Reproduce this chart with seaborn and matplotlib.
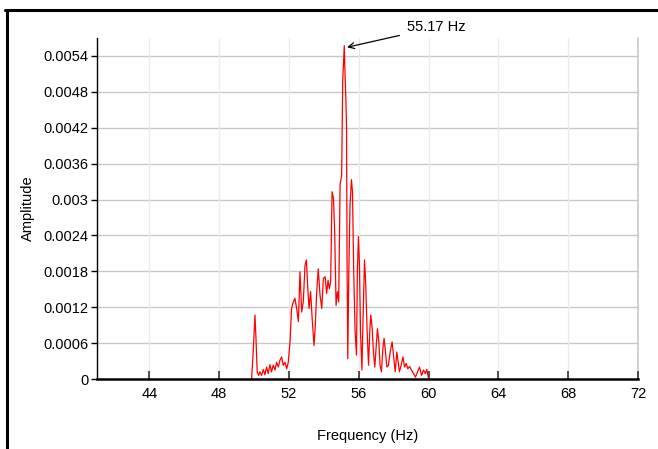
import matplotlib
matplotlib.use("Agg")
import matplotlib.pyplot as plt
import seaborn as sns
import pandas as pd
from matplotlib.lines import Line2D

freq = [49.86, 49.95, 50.05, 50.11, 50.18, 50.26, 50.33, 50.43, 50.53, 50.62,
        50.72, 50.81, 50.91, 51.00, 51.10, 51.20, 51.29, 51.39, 51.48, 51.58,
        51.67, 51.77, 51.87, 51.96, 52.06, 52.15, 52.25, 52.34, 52.44, 52.54,
        52.63, 52.73, 52.82, 52.92, 53.00, 53.07, 53.15, 53.24, 53.34, 53.44,
        53.51, 53.59, 53.68, 53.78, 53.88, 53.97, 54.07, 54.16, 54.24, 54.32,
        54.39, 54.47, 54.55, 54.62, 54.70, 54.78, 54.85, 54.93, 55.02, 55.08,
        55.17, 55.22, 55.26, 55.30, 55.33, 55.37, 55.43, 55.50, 55.58, 55.64,
        55.71, 55.79, 55.87, 55.92, 55.98, 56.04, 56.10, 56.18, 56.25, 56.33,
        56.40, 56.48, 56.56, 56.63, 56.69, 56.77, 56.84, 56.92, 56.99, 57.07,
        57.15, 57.22, 57.30, 57.38, 57.45, 57.53, 57.61, 57.70, 57.80, 57.91,
        57.99, 58.09, 58.18, 58.26, 58.33, 58.43, 58.53, 58.62, 58.72, 58.81,
        58.91, 59.02, 59.14, 59.25, 59.37, 59.48, 59.60, 59.71, 59.81, 59.90,
        60.00]
amplitude = [0.0, 0.00045, 0.00107, 0.00068, 0.00012, 0.00006, 0.00012, 0.00006, 0.00016, 0.00007,
             0.00020, 0.00009, 0.00024, 0.00012, 0.00023, 0.00015, 0.00028, 0.00020, 0.00031, 0.00037,
             0.00023, 0.00028, 0.00017, 0.00028, 0.00062, 0.00118, 0.00129, 0.00135, 0.00118, 0.00096,
             0.00179, 0.00112, 0.00129, 0.00190, 0.00199, 0.00157, 0.00118, 0.00146, 0.00096, 0.00056,
             0.00090, 0.00146, 0.00184, 0.00140, 0.00118, 0.00168, 0.00171, 0.00143, 0.00165, 0.00151,
             0.00163, 0.00313, 0.00302, 0.00246, 0.00123, 0.00146, 0.00129, 0.00325, 0.00341, 0.00498,
             0.00557, 0.00503, 0.00470, 0.00420, 0.00190, 0.00034, 0.00179, 0.00291, 0.00333, 0.00313,
             0.00179, 0.00079, 0.00040, 0.00179, 0.00238, 0.00190, 0.00079, 0.00015, 0.00107, 0.00199,
             0.00157, 0.00079, 0.00023, 0.00079, 0.00107, 0.00084, 0.00045, 0.00020, 0.00051, 0.00084,
             0.00062, 0.00023, 0.00012, 0.00051, 0.00068, 0.00045, 0.00020, 0.00023, 0.00045, 0.00062,
             0.00040, 0.00012, 0.00045, 0.00028, 0.00012, 0.00023, 0.00037, 0.00020, 0.00026, 0.00017,
             0.00021, 0.00015, 0.00009, 0.00003, 0.00012, 0.00020, 0.00006, 0.00015, 0.00009, 0.00016,
             0.0]

x_ticks = [44, 48, 52, 56, 60, 64, 68, 72]
y_ticks = [0, 0.0006, 0.0012, 0.0018, 0.0024, 0.003, 0.0036, 0.0042, 0.0048, 0.0054]
y_tick_labels = ["0", "0.0006", "0.0012", "0.0018", "0.0024", "0.003",
                 "0.0036", "0.0042", "0.0048", "0.0054"]
peak_freq = 55.17
peak_amp = 0.00557
peak_label = "55.17 Hz"

sns.set_theme(style="white")
plt.rcParams["font.family"] = ["Liberation Sans", "DejaVu Sans"]

df = pd.DataFrame({"Frequency (Hz)": freq, "Amplitude": amplitude})

fig = plt.figure(figsize=(6.58, 4.49), dpi=100)
ax = fig.add_axes([0.1474, 0.1559, 0.8222, 0.7595])

sns.lineplot(data=df, x="Frequency (Hz)", y="Amplitude", color="#ff0000",
             linewidth=0.9, ax=ax, estimator=None, sort=False)

ax.set_xlim(41, 72)
ax.set_ylim(0, 0.0057)
ax.set_xticks(x_ticks)
ax.set_yticks(y_ticks)
ax.set_yticklabels(y_tick_labels)

# grid
for yv in y_ticks[1:]:
    ax.axhline(yv, color="#c8c8c8", lw=1.0, zorder=0)
for xv in x_ticks:
    ax.axvline(xv, color="#ebebeb", lw=1.0, zorder=0)
ax.axvline(72, color="#c8c8c8", lw=1.2, zorder=0, clip_on=False)

for s in ["top", "right"]:
    ax.spines[s].set_visible(False)
ax.spines["left"].set_color("black")
ax.spines["left"].set_linewidth(1.0)
ax.spines["bottom"].set_color("black")
ax.spines["bottom"].set_linewidth(1.8)

ax.tick_params(axis="y", direction="out", length=4, width=1, color="black",
               labelsize=10.5, pad=2, labelcolor="black", left=True)
ax.tick_params(axis="x", direction="in", length=6, width=1.2, color="#333333",
               labelsize=10.5, pad=6, labelcolor="black", bottom=True)

ax.set_xlabel("Frequency (Hz)", fontsize=10.5, color="black", labelpad=20)
ax.set_ylabel("Amplitude", fontsize=10.5, color="black", labelpad=6)

ax.annotate(peak_label, xy=(peak_freq + 0.08, peak_amp - 0.00003),
            xytext=(58.75, 0.00588),
            fontsize=10.5, color="black", ha="left", va="center",
            annotation_clip=False,
            arrowprops=dict(arrowstyle="->", color="black", lw=0.9,
                            shrinkA=3, shrinkB=1))

# outer frame (top and left)
fig.add_artist(Line2D([0.008, 1.0], [0.978, 0.978], color="black", lw=2.2,
                      transform=fig.transFigure))
fig.add_artist(Line2D([0.010, 0.010], [0.0, 0.978], color="black", lw=2.2,
                      transform=fig.transFigure))

fig.savefig("out.png", dpi=100)
